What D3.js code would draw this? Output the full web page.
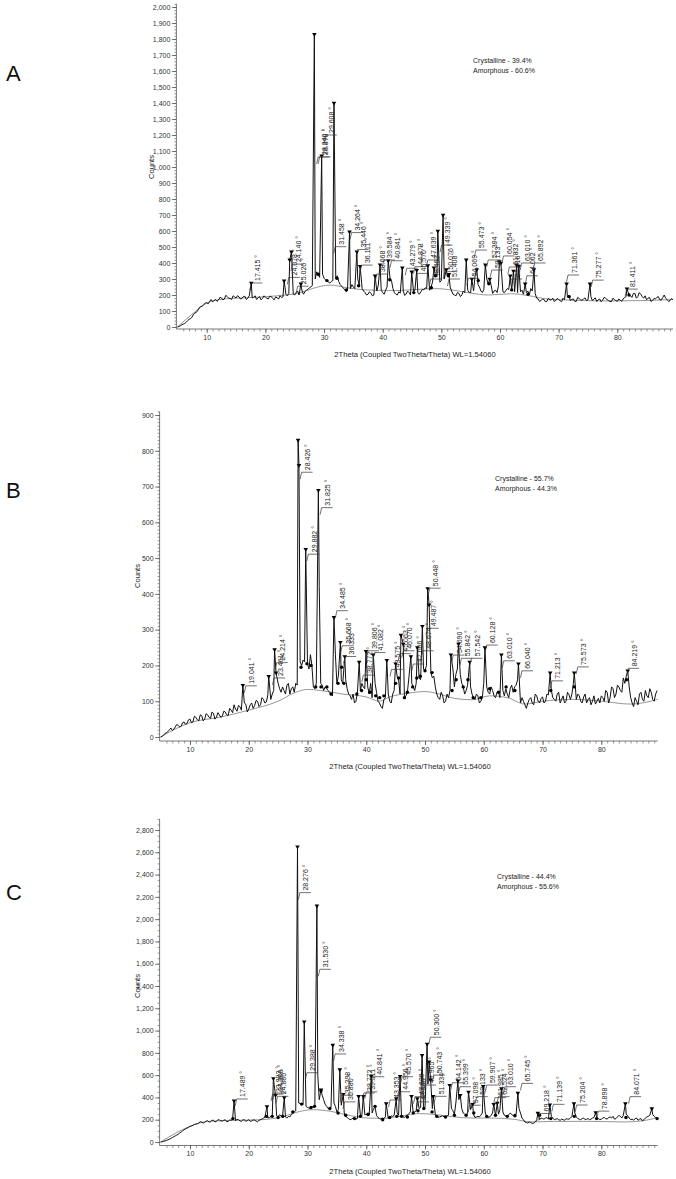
<!DOCTYPE html>
<html><head><meta charset="utf-8">
<script src="https://cdn.jsdelivr.net/npm/d3@7"></script>
<style>
html,body{margin:0;padding:0;background:#fff;}
svg{display:block;font-family:"Liberation Sans",Arial,Helvetica,sans-serif;}
</style></head><body>
<svg id="chart" width="676" height="1179"></svg>
<script>
// ---------- DATA ----------
const twoThetaStart = 5.0;      // first 2θ of the on-grid readings
const twoThetaStep = 0.5;       // spacing of readings; the "Half" arrays sit halfway between
const xTickValues = [10, 20, 30, 40, 50, 60, 70, 80];
const xTitle = "2Theta (Coupled TwoTheta/Theta) WL=1.54060";
const yTitle = "Counts";
const panelLetters = ["A", "B", "C"];

// Panel A
const countsA = [
 0,8,18,30,48,62,88,105,128,140,
 152,160,158,172,168,182,175,190,178,195,
 182,188,178,192,180,190,185,172,190,178,
 186,175,190,170,182,195,188,205,210,215,
 200,225,215,205,230,245,260,300,330,320,
 305,290,275,290,300,285,255,235,228,240,
 250,255,262,240,215,205,210,200,225,240,
 215,230,290,290,215,200,212,225,205,215,
 210,230,215,220,232,240,230,280,320,300,
 290,300,320,250,205,195,210,200,215,230,
 215,225,290,250,215,225,270,260,225,215,
 240,220,228,235,230,220,215,220,205,215,
 200,225,210,175,165,172,160,168,180,165,
 172,158,170,185,165,175,160,178,168,182,
 170,190,175,160,175,168,180,165,158,172,
 160,168,175,190,200,185,210,190,205,180,
 170,185,165,175,190,168,200,172,165,170];
const countsAHalf = [
 3,14,22,40,52,80,92,122,130,150,
 145,172,165,160,185,170,198,180,172,188,
 196,175,190,172,195,182,195,180,170,195,
 180,192,178,188,175,185,200,195,300,205,
 215,200,225,220,235,250,280,345,310,330,
 295,280,285,600,320,265,245,222,250,265,
 240,300,250,225,200,220,195,215,260,230,
 205,250,305,240,205,220,230,198,225,200,
 225,240,205,235,245,280,250,310,330,280,
 305,330,280,225,200,215,190,225,240,215,
 240,320,265,225,235,300,240,210,230,260,
 230,215,240,250,225,235,210,230,200,225,
 240,215,180,160,175,158,180,170,160,178,
 165,180,160,200,172,160,185,170,175,165,
 200,165,182,170,158,185,172,160,180,165,
 175,160,185,170,195,210,180,215,190,195,
 180,160,178,185,170,185,180,160,178];
const peaksA = [[17.6,275],[23.2,290],[24.15,420],[24.45,470],[26.05,270],[28.35,1830],[29.6,1070],[31.7,1400],[34.35,595],[35.6,470],[36.15,380],[38.7,320],[39.55,390],[40.95,415],[43.35,370],[44.95,345],[45.8,355],[47.7,385],[48.75,370],[49.4,600],[50.3,700],[50.85,360],[51.3,330],[54.25,420],[55.2,300],[56.05,360],[57.5,390],[58.25,300],[59.9,410],[60.15,400],[61.75,320],[62.3,350],[62.85,390],[63.2,380],[64.3,270],[65.8,360],[71.35,270],[75.35,270],[81.65,240]];
const amorphousA = [[5,0],[8,95],[10,150],[13,175],[18,185],[22,195],[26,215],[28,240],[31,262],[34,245],[37,232],[42,228],[46,235],[49,240],[52,230],[55,212],[58,200],[62,208],[65,195],[68,175],[72,168],[78,163],[84,165],[89.5,172]];
const dotsA = [[29.0,330],[30.5,290],[32.2,305],[33.8,232],[35.9,258],[41.2,295],[45.3,215],[48.3,245],[49.0,320],[51.2,320],[56.3,290],[58.1,270],[62.0,232],[64.8,205],[71.8,190],[82.0,200]];
const labelsA = [["17.415 °",17.6,275],["24.078 °",24.0,310],["24.140 °",24.6,393],["25.026 °",25.5,255],["28.340 °",29.0,1063],["28.870 °",29.25,1063],["29.608 °",30.3,1200],["31.458 °",31.9,502],["34.264 °",34.7,590],["35.446 °",35.7,484],["36.111 °",36.4,387],["38.668 °",39.0,331],["39.584 °",40.2,419],["40.841 °",41.5,414],["43.279 °",44.1,367],["44.878 °",45.5,377],["45.570 °",45.9,335],["47.639 °",47.7,419],["48.462 °",48.2,300],["49.339 °",50.05,512],["50.076 °",50.6,346],["51.408 °",51.3,300],["54.069 °",54.6,304],["55.473 °",55.9,481],["57.394 °",58.0,419],["58.133 °",58.6,356],["60.054 °",60.6,444],["61.832 °",61.6,375],["61.916 °",61.9,300],["63.010 °",63.7,400],["64.062 °",64.6,320],["65.892 °",65.9,400],["71.361 °",71.6,325],["75.277 °",75.8,293],["81.411 °",81.6,237]];
const yTicksA = [0,100,200,300,400,500,600,700,800,900,1000,1100,1200,1300,1400,1500,1600,1700,1800,1900,2000];
const legendA = ["Crystalline - 39.4%", "Amorphous - 60.6%"];

// Panel B
const countsB = [
 0,5,12,20,18,28,32,30,42,38,
 50,42,55,45,60,50,62,52,66,55,
 62,58,70,60,75,90,72,85,80,92,
 78,95,88,100,90,105,98,115,120,160,
 150,125,130,145,120,140,150,300,200,210,
 205,230,140,150,420,145,140,130,120,150,
 150,200,150,160,120,105,95,125,130,140,
 160,120,110,150,100,85,105,110,100,120,
 150,160,150,110,125,160,140,150,165,180,
 185,300,180,170,120,105,115,100,110,160,
 140,190,175,140,130,160,120,105,115,100,
 150,140,120,130,110,125,150,115,120,135,
 125,145,150,110,90,95,110,90,115,95,
 112,100,118,130,105,120,95,115,100,118,
 120,140,120,100,112,95,110,100,92,108,
 115,100,125,110,135,120,140,125,150,160,
 110,85,100,120,105,130,110,125,100,130];
const countsBHalf = [
 2,10,15,25,22,35,28,40,35,48,
 40,58,48,62,45,65,55,70,50,68,
 55,72,62,80,68,78,88,75,95,70,
 90,80,102,85,110,95,118,105,130,190,
 135,140,120,150,135,125,145,210,215,235,
 190,200,135,165,150,130,135,125,115,230,
 170,160,190,135,115,120,100,110,150,135,
 140,150,115,125,95,80,110,120,95,130,
 170,120,140,115,165,150,130,175,160,190,
 200,330,165,140,110,125,95,120,130,190,
 175,200,150,120,145,140,110,120,95,110,
 165,125,140,115,125,110,130,135,110,145,
 140,160,95,100,80,105,95,120,100,108,
 95,120,140,110,100,125,105,95,125,105,
 150,105,115,95,120,105,90,115,100,95,
 110,130,95,140,110,145,130,165,170,140,
 95,110,90,125,100,115,135,105,120];
const peaksB = [[19.0,145],[23.4,170],[24.4,245],[24.65,180],[28.4,830],[28.55,760],[29.7,525],[31.85,690],[34.5,335],[35.6,265],[36.35,225],[38.8,210],[39.95,240],[41.2,230],[43.5,215],[45.0,205],[45.9,285],[46.3,260],[47.6,225],[48.7,250],[49.55,310],[50.45,415],[50.7,370],[54.4,230],[55.7,260],[57.6,210],[60.2,250],[63.0,230],[65.9,205],[71.3,180],[75.4,180],[84.5,185]];
const amorphousB = [[5,0],[10,40],[15,55],[20,75],[25,100],[28,125],[30,133],[33,128],[36,120],[40,112],[42.3,100],[44,112],[47,122],[50,127],[52,122],[55,108],[58,104],[61,115],[64,110],[67,92],[70,100],[75,105],[80,100],[85,92],[89.6,105]];
const dotsB = [[28.9,195],[29.9,205],[30.6,200],[31.4,140],[32.3,140],[33.3,140],[34.0,120],[35.2,150],[35.8,195],[36.2,150],[38.4,120],[39.2,130],[40.0,160],[40.6,125],[41.6,115],[42.3,110],[43.0,115],[45.0,150],[45.5,165],[46.5,110],[47.0,125],[47.9,140],[48.6,165],[49.2,170],[50.0,185],[51.2,180],[54.6,130],[55.3,160],[56.5,140],[57.3,160],[58.2,110],[59.5,110],[61.0,135],[62.5,125],[63.8,140],[65.3,130],[71.4,130],[75.4,140],[84.3,160]];
const labelsB = [["19.041 °",19.5,143],["23.461 °",24.3,165],["24.214 °",24.76,208],["28.426 °",29.0,740],["29.882 °",30.14,511],["31.825 °",32.4,641],["34.485 °",35.0,353],["35.668 °",35.9,255],["36.333 °",36.4,225],["38.772 °",39.5,173],["39.806 °",40.3,241],["41.082 °",41.4,236],["43.575 °",44.3,189],["45.063 °",45.7,233],["46.070 °",46.3,241],["47.666 °",48.0,204],["48.674 °",49.6,241],["49.487 °",50.45,304],["50.448 °",50.8,416],["54.690 °",54.8,229],["55.842 °",56.2,220],["57.542 °",57.9,220],["60.128 °",60.5,257],["63.010 °",63.4,213],["66.040 °",66.5,185],["71.213 °",71.6,157],["75.573 °",76.0,196],["84.219 °",84.6,192]];
const yTicksB = [0,100,200,300,400,500,600,700,800,900];
const legendB = ["Crystalline - 55.7%", "Amorphous - 44.3%"];

// Panel C
const countsC = [
 0,5,15,25,40,55,70,90,110,125,
 140,150,160,170,178,175,190,182,195,185,
 198,188,200,185,195,200,205,190,198,185,
 200,190,196,182,200,215,210,220,230,240,
 225,235,240,215,225,260,280,350,340,330,
 310,300,310,330,380,420,340,300,310,350,
 270,280,300,230,210,205,215,210,240,230,
 250,240,260,310,220,205,210,215,220,230,
 245,240,230,220,240,270,260,280,300,290,
 310,520,330,270,230,225,235,220,240,300,
 250,400,350,260,240,280,230,220,230,240,
 300,230,225,260,240,250,280,240,230,260,
 235,245,300,215,180,170,175,168,190,200,
 210,215,205,230,200,210,195,200,210,205,
 230,260,210,200,215,205,200,215,230,210,
 205,220,205,225,230,210,240,215,260,235,
 200,195,215,205,190,215,230,270,230,215];
const countsCHalf = [
 2,10,20,32,48,62,80,100,118,132,
 145,158,165,182,170,188,178,195,180,200,
 190,195,182,198,205,190,200,185,200,192,
 185,198,188,195,205,220,215,228,250,235,
 245,230,225,230,245,270,310,345,335,320,
 305,315,320,600,440,380,320,305,400,320,
 290,330,260,220,200,215,205,225,235,245,
 235,270,300,240,210,215,225,210,235,240,
 260,235,225,235,255,265,270,290,310,300,
 400,420,300,245,220,230,225,235,260,280,
 350,380,300,250,260,290,250,225,225,260,
 260,220,240,255,245,290,270,235,245,250,
 250,280,260,200,175,180,165,185,205,215,
 205,220,210,215,205,200,205,195,205,215,
 250,225,205,210,200,210,205,220,215,200,
 215,210,220,215,205,225,230,240,250,215,
 205,210,195,210,200,225,240,245,220];
const peaksC = [[17.5,370],[23.1,320],[24.2,570],[24.55,420],[26.05,400],[28.3,2650],[29.45,1080],[31.6,2120],[32.3,470],[34.3,870],[35.5,650],[36.1,430],[38.7,410],[39.5,410],[40.85,590],[43.4,345],[45.1,390],[45.75,590],[47.7,410],[48.7,390],[49.5,780],[50.35,880],[50.7,720],[50.95,560],[51.4,410],[54.2,510],[55.6,550],[56.0,420],[57.4,450],[58.1,340],[59.9,500],[61.7,340],[62.3,350],[63.0,480],[65.8,440],[69.2,260],[71.25,335],[75.35,345],[79.05,265],[84.1,345],[88.6,300]];
const amorphousC = [[5,0],[10,140],[13,185],[18,195],[22,200],[26,230],[28,265],[31,290],[34,275],[37,240],[40,215],[43,212],[46,235],[49,255],[52,245],[55,225],[58,215],[61,215],[65,205],[68,180],[72,185],[78,185],[84,180],[87,190],[89.6,220]];
const dotsC = [[17.3,210],[23.0,230],[24.0,230],[25.0,220],[25.8,230],[27.5,270],[29.0,340],[30.6,310],[31.2,320],[32.3,460],[33.8,300],[35.2,260],[36.5,240],[38.0,210],[39.0,230],[40.3,250],[41.5,320],[42.8,200],[44.0,220],[45.2,230],[46.0,230],[47.0,225],[48.0,260],[48.8,280],[49.8,300],[51.2,270],[52.0,230],[53.5,225],[55.0,240],[57.0,240],[58.3,260],[60.5,230],[62.0,240],[64.0,230],[65.3,235],[69.5,240],[71.4,210],[75.4,230],[79.2,210],[84.2,220],[89.5,210]];
const labelsC = [["17.489 °",17.95,386],["23.983 °",24.05,430],["24.300 °",24.35,440],["24.880 °",24.9,410],["28.276 °",28.7,2238],["29.388 °",29.9,622],["31.530 °",32.1,1550],["34.338 °",34.7,790],["35.298 °",35.8,420],["35.880 °",36.3,360],["38.772 °",39.6,440],["39.511 °",40.0,450],["40.841 °",41.2,586],["43.353 °",44.05,377],["44.956 °",45.6,451],["45.570 °",46.1,586],["47.639 °",48.3,407],["48.540 °",48.8,360],["49.965 °",50.0,511],["50.300 °",50.9,940],["50.743 °",51.5,600],["51.334 °",51.8,410],["54.142 °",54.65,532],["55.399 °",55.95,496],["57.098 °",57.6,330],["58.133 °",58.8,407],["59.907 °",60.5,511],["61.985 °",61.9,398],["62.524 °",62.5,407],["63.010 °",63.6,496],["65.745 °",66.5,526],["69.218 °",69.6,256],["71.139 °",71.85,338],["75.204 °",75.8,332],["78.898 °",79.5,277],["84.071 °",84.9,407]];
const yTicksC = [0,200,400,600,800,1000,1200,1400,1600,1800,2000,2200,2400,2600,2800];
const legendC = ["Crystalline - 44.4%", "Amorphous - 55.6%"];

// ---------- DRAWING ----------
const svg = d3.select("#chart");

function drawPanel(p) {
  const g = svg.append("g");
  const x = d3.scaleLinear().domain([5, p.xMax]).range([p.x0, p.x1]);
  const y = d3.scaleLinear().domain([0, p.yMax]).range([p.y0, p.yTop]);

  // amorphous background
  g.append("path").datum(p.amorph)
    .attr("d", d3.line().x(d => x(d[0])).y(d => y(d[1])).curve(d3.curveMonotoneX))
    .attr("fill", "none").attr("stroke", "#8a8a8a").attr("stroke-width", 0.9);

  // measured trace: on-grid readings + half-step readings + peak tops
  const grid = p.counts.map((c, i) => [twoThetaStart + twoThetaStep * i, c])
    .concat(p.half.map((c, i) => [twoThetaStart + twoThetaStep * (i + 0.5), c]))
    .filter(d => !p.peaks.some(k => Math.abs(k[0] - d[0]) < 0.12));
  const trace = grid.concat(p.peaks).sort((a, b) => a[0] - b[0]);
  g.append("path").datum(trace)
    .attr("d", d3.line().x(d => x(d[0])).y(d => y(d[1])))
    .attr("fill", "none").attr("stroke", "#111").attr("stroke-width", 1.0)
    .attr("stroke-linejoin", "miter");

  // dots
  g.selectAll("circle.dot").data(p.dots).join("circle")
    .attr("cx", d => x(d[0])).attr("cy", d => y(d[1])).attr("r", 1.7).attr("fill", "#000");

  // triangles at peak tops
  g.selectAll("path.tri").data(p.peaks).join("path")
    .attr("d", d => { const px = x(d[0]), py = y(d[1]);
      return `M${px-2.3},${py-1.2}L${px+2.3},${py-1.2}L${px},${py+2.6}Z`; })
    .attr("fill", "#000");

  // peak labels
  const lab = g.selectAll("g.lab").data(p.labels).join("g");
  lab.append("path")
    .attr("d", d => { const lx = x(d[1]), ly = y(d[2]);
      return `M${lx-1.5},${ly+7}L${lx},${ly}L${lx+11},${ly}`; })
    .attr("fill", "none").attr("stroke", "#333").attr("stroke-width", 0.7);
  lab.append("text")
    .attr("transform", d => `translate(${x(d[1]) + 8.5},${y(d[2]) - 2}) rotate(-90)`)
    .attr("font-size", 7).attr("fill", "#222").text(d => d[0]);

  // y axis
  const yMinor = d3.range(0, p.yAxisMax + 0.1, p.yMinorStep);
  const yM = g.append("g").attr("transform", `translate(${p.x0 - 1},0)`)
    .call(d3.axisLeft(y).tickValues(yMinor).tickSize(2).tickSizeOuter(0).tickFormat(""));
  yM.select(".domain").remove();
  yM.selectAll("line").attr("stroke", "#555").attr("stroke-width", 0.6);
  const yA = g.append("g").attr("transform", `translate(${p.x0 - 1},0)`)
    .call(d3.axisLeft(y).tickValues(p.yTicks).tickSize(4.5).tickSizeOuter(0).tickPadding(1.5).tickFormat(d3.format(",")));
  yA.select(".domain").remove();
  yA.selectAll("line").attr("stroke", "#444").attr("stroke-width", 0.7);
  yA.selectAll("text").attr("font-size", 7).attr("fill", "#333").attr("font-family", "Liberation Sans, Arial, sans-serif");
  g.append("line").attr("x1", p.x0 - 1).attr("x2", p.x0 - 1)
    .attr("y1", p.axisY).attr("y2", y(p.yAxisMax))
    .attr("stroke", "#555").attr("stroke-width", 0.8);

  // x axis
  const xMinor = d3.range(6, p.xMax, 1);
  const xAxisG = g.append("g").attr("transform", `translate(0,${p.axisY})`);
  const xm = xAxisG.append("g").call(d3.axisBottom(x).tickValues(xMinor).tickSize(2.5).tickSizeOuter(0).tickFormat(""));
  xm.select(".domain").remove();
  xm.selectAll("line").attr("stroke", "#555").attr("stroke-width", 0.6);
  const xa = xAxisG.append("g").call(d3.axisBottom(x).tickValues(xTickValues).tickSize(4).tickSizeOuter(0).tickPadding(2));
  xa.select(".domain").remove();
  xa.selectAll("line").attr("stroke", "#444").attr("stroke-width", 0.7);
  xa.selectAll("text").attr("font-size", 7).attr("fill", "#333").attr("font-family", "Liberation Sans, Arial, sans-serif");
  g.append("line").attr("x1", p.x0 - 1).attr("x2", p.x1)
    .attr("y1", p.axisY).attr("y2", p.axisY).attr("stroke", "#555").attr("stroke-width", 0.8);

  // titles
  g.append("text").attr("x", p.titleX).attr("y", p.titleY).attr("text-anchor", "middle")
    .attr("font-size", 7.6).attr("fill", "#222").text(xTitle);
  g.append("text").attr("transform", `translate(${p.countsX},${(p.y0 + p.yTop) / 2}) rotate(-90)`)
    .attr("text-anchor", "middle").attr("font-size", 7.5).attr("fill", "#222").text(yTitle);

  // legend
  g.selectAll("text.leg").data(p.legend).join("text")
    .attr("x", p.legX).attr("y", (d, i) => p.legY + i * 9.5)
    .attr("font-size", 7).attr("fill", "#222").text(d => d);

  // panel letter
  g.append("text").attr("x", 6).attr("y", p.letterY).attr("font-size", 22)
    .attr("fill", "#111").text(p.letter);
}

drawPanel({counts: countsA, half: countsAHalf, peaks: peaksA, amorph: amorphousA, dots: dotsA, labels: labelsA,
  yTicks: yTicksA, legend: legendA, letter: panelLetters[0],
  x0: 177.4, x1: 673, xMax: 89.5, y0: 327, yTop: 7, yMax: 2000, yAxisMax: 2020, yMinorStep: 20,
  axisY: 329, titleX: 415, titleY: 357, countsX: 154, legX: 473, legY: 63, letterY: 81});

drawPanel({counts: countsB, half: countsBHalf, peaks: peaksB, amorph: amorphousB, dots: dotsB, labels: labelsB,
  yTicks: yTicksB, legend: legendB, letter: panelLetters[1],
  x0: 160.6, x1: 657.7, xMax: 89.6, y0: 737, yTop: 415, yMax: 900, yAxisMax: 910, yMinorStep: 10,
  axisY: 741, titleX: 410, titleY: 769, countsX: 140, legX: 495, legY: 481, letterY: 498});

drawPanel({counts: countsC, half: countsCHalf, peaks: peaksC, amorph: amorphousC, dots: dotsC, labels: labelsC,
  yTicks: yTicksC, legend: legendC, letter: panelLetters[2],
  x0: 160.6, x1: 657.7, xMax: 89.6, y0: 1142, yTop: 830, yMax: 2800, yAxisMax: 2900, yMinorStep: 50,
  axisY: 1145.5, titleX: 410, titleY: 1174, countsX: 140, legX: 497, legY: 879, letterY: 900});
</script>
</body></html>
